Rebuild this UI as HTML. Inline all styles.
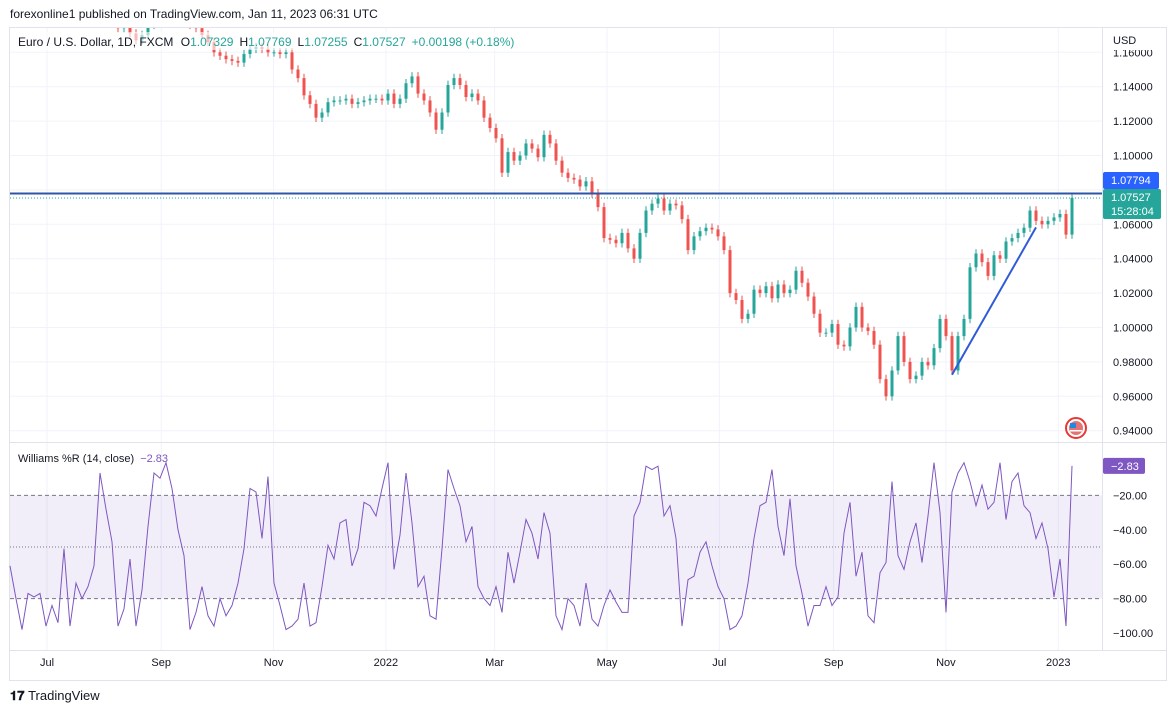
<!DOCTYPE html>
<html><head><meta charset="utf-8">
<style>
html,body{margin:0;padding:0;background:#fff;}
body{width:1176px;height:713px;overflow:hidden;font-family:"Liberation Sans",sans-serif;}
svg text{font-family:"Liberation Sans",sans-serif;}
</style></head>
<body>
<svg id="chart" width="1176" height="713" viewBox="0 0 1176 713" xmlns="http://www.w3.org/2000/svg">
<rect x="0" y="0" width="1176" height="713" fill="#ffffff"/>
<text x="10" y="18" font-size="12" fill="#131722">forexonline1 published on TradingView.com, Jan 11, 2023 06:31 UTC</text>
<rect x="9.5" y="27.5" width="1157" height="653" fill="none" stroke="#e0e3eb"/>
<g id="grid"></g>
<g id="wprband"></g>
<g id="candles"></g>
<g id="axes"></g>
<g id="overlay"></g>
<line x1="10" y1="442.5" x2="1166" y2="442.5" stroke="#e0e3eb"/>
<line x1="10" y1="650.5" x2="1166" y2="650.5" stroke="#e0e3eb"/>
<line x1="1102.5" y1="28" x2="1102.5" y2="650" stroke="#e0e3eb"/>
<rect x="14" y="32" width="510" height="18" fill="#fff" opacity="0.6"/>
<text x="18" y="46" font-size="12" fill="#131722">Euro / U.S. Dollar, 1D, FXCM <tspan dx="4">O</tspan><tspan fill="#26a69a">1.07329</tspan><tspan dx="6">H</tspan><tspan fill="#26a69a">1.07769</tspan><tspan dx="6">L</tspan><tspan fill="#26a69a">1.07255</tspan><tspan dx="6">C</tspan><tspan fill="#26a69a">1.07527</tspan><tspan dx="6" fill="#26a69a">+0.00198 (+0.18%)</tspan></text>
<rect x="1103" y="28" width="62" height="22" fill="#fff"/>
<text x="1113" y="44" font-size="11" fill="#131722">USD</text>
<text x="18" y="462" font-size="11" fill="#131722">Williams %R (14, close) <tspan fill="#7e57c2" dx="3">−2.83</tspan></text>
<g><circle cx="1076" cy="428" r="10" fill="#fff" stroke="#e53935" stroke-width="2"/><circle cx="1076" cy="428" r="7" fill="#e57373"/><rect x="1070" y="423" width="6" height="5" fill="#1e88e5"/><rect x="1070" y="430" width="12" height="1.5" fill="#fff"/></g>
<text x="10" y="700" font-size="13" font-weight="bold" fill="#131722">𝟏𝟕 <tspan font-weight="normal">TradingView</tspan></text>
</svg>
<script>
const closes=[1.212,1.205,1.198,1.192,1.188,1.186,1.186,1.182,1.180,1.183,1.187,1.188,1.185,1.183,1.187,1.185,1.183,1.178,1.174,1.176,1.171,1.167,1.170,1.176,1.180,1.184,1.188,1.186,1.182,1.180,1.176,1.174,1.170,1.166,1.160,1.158,1.156,1.155,1.154,1.159,1.162,1.163,1.162,1.160,1.160,1.159,1.160,1.150,1.145,1.135,1.130,1.122,1.125,1.131,1.132,1.132,1.133,1.130,1.131,1.132,1.133,1.133,1.132,1.136,1.130,1.133,1.142,1.146,1.136,1.132,1.125,1.115,1.125,1.141,1.145,1.141,1.134,1.136,1.132,1.122,1.116,1.110,1.090,1.102,1.097,1.100,1.107,1.104,1.099,1.112,1.107,1.097,1.090,1.087,1.086,1.082,1.085,1.078,1.070,1.052,1.051,1.049,1.055,1.046,1.040,1.055,1.068,1.072,1.075,1.068,1.072,1.071,1.063,1.045,1.053,1.056,1.058,1.057,1.053,1.045,1.020,1.016,1.005,1.008,1.022,1.020,1.024,1.017,1.025,1.020,1.022,1.033,1.026,1.018,1.008,0.997,0.997,1.002,0.990,0.989,1.000,1.012,1.000,0.998,0.990,0.970,0.960,0.975,0.995,0.980,0.970,0.972,0.980,0.978,0.988,1.005,0.995,0.975,0.995,1.005,1.035,1.043,1.038,1.030,1.042,1.040,1.050,1.052,1.055,1.058,1.068,1.062,1.060,1.062,1.064,1.066,1.054,1.0753];
const wpr=[-61,-80,-98,-77,-79,-77,-96,-84,-94,-51,-96,-71,-80,-73,-61,-7,-28,-47,-96,-86,-57,-96,-75,-38,-7,-10,-1,-16,-40,-55,-98,-88,-73,-90,-96,-80,-90,-84,-71,-51,-16,-18,-45,-9,-71,-84,-98,-96,-92,-71,-96,-94,-73,-49,-57,-36,-34,-61,-51,-24,-26,-32,-16,-1,-63,-43,-7,-36,-73,-67,-90,-92,-51,-5,-16,-26,-47,-38,-73,-80,-84,-73,-88,-53,-71,-53,-34,-42,-57,-30,-42,-90,-98,-80,-84,-96,-71,-92,-96,-84,-75,-82,-88,-88,-32,-24,-3,-5,-3,-32,-26,-45,-96,-69,-67,-53,-47,-61,-73,-80,-98,-96,-90,-71,-45,-26,-24,-5,-38,-55,-22,-61,-77,-96,-84,-84,-73,-84,-79,-42,-24,-67,-53,-90,-94,-65,-59,-12,-55,-63,-47,-36,-59,-32,-1,-30,-88,-18,-7,-1,-12,-26,-14,-28,-24,-1,-34,-12,-7,-26,-30,-45,-36,-51,-79,-57,-96,-2.83];
const priceTicks=[1.16,1.14,1.12,1.10,1.08,1.06,1.04,1.02,1.00,0.98,0.96,0.94];
const wprTicks=[-20,-40,-60,-80,-100];
const timeLabels=["Jul","Sep","Nov","2022","Mar","May","Jul","Sep","Nov","2023"];
const timeDays=[0,62,123,184,243,304,365,427,488,549]; // days since 2021-07-01
const resistance=1.07794, lastPrice=1.07527;
const trendStart=[0.9725], trendEnd=[1.0582];
const trendIdx=[157,171];

const NS="http://www.w3.org/2000/svg";
function mk(t,a,p){const e=document.createElementNS(NS,t);for(const k in a)e.setAttribute(k,a[k]);p.appendChild(e);return e;}
const py=v=>327.5-(v-1.0)*1720;
const wy=v=>461-v*1.72;
const X0=10,X1=1072;
const bx=i=>X0+i*(X1-X0)/(closes.length-1);
const dx=d=>47+d*1.842;
const grid=document.getElementById('grid'),axes=document.getElementById('axes');
const cg=document.getElementById('candles'),ov=document.getElementById('overlay');
priceTicks.forEach(t=>{const y=py(t);
 const l=mk('line',{x1:10,x2:1102,y1:y,y2:y,stroke:'#f0f3fa'},grid);
 
 
 if(Math.abs(y-py(resistance))<10)return;
 const tx=mk('text',{x:1113,y:y+4,'font-size':11,fill:'#131722'},axes);tx.textContent=t.toFixed(5);
 
 
});
timeDays.forEach((d,i)=>{const x=dx(d);
 const l=mk('line',{x1:x,x2:x,y1:28,y2:650,stroke:'#f0f3fa'},grid);
 
 
 const tx=mk('text',{x:x,y:666,'font-size':11,fill:'#131722','text-anchor':'middle'},axes);tx.textContent=timeLabels[i];
 
 
});
const band=mk('rect',{x:10,y:wy(-20),width:1092,height:wy(-80)-wy(-20),fill:'#7e57c2','fill-opacity':0.1},document.getElementById('wprband'));


[[-20,'4 3'],[-50,'1 2'],[-80,'4 3']].forEach(([v,d])=>{
 const l=mk('line',{x1:10,x2:1102,y1:wy(v),y2:wy(v),stroke:'#787b86','stroke-dasharray':d},grid);
 
 
});
wprTicks.forEach(t=>{const tx=mk('text',{x:1113,y:wy(t)+4,'font-size':11,fill:'#131722'},axes);tx.textContent=t.toFixed(2).replace('-','−');
 
 });
const defs=mk('defs',{},document.getElementById('chart'));
const cp=mk('clipPath',{id:'pc'},defs);mk('rect',{x:10,y:28,width:1092,height:414},cp);
cg.setAttribute('clip-path','url(#pc)');
closes.forEach((c,i)=>{if(i===0)return;const o=closes[i-1];const up=c>=o;const col=up?'#26a69a':'#ef5350';
 const x=bx(i);const hi=Math.max(o,c)+0.0025,lo=Math.min(o,c)-0.0025;
 const g=mk('g',{},cg);
 
 
 mk('line',{x1:x,x2:x,y1:py(hi),y2:py(lo),stroke:col,'stroke-width':1},g);
 const t=py(Math.max(o,c)),b=py(Math.min(o,c));
 mk('rect',{x:x-1.5,y:t,width:3,height:Math.max(1,b-t),fill:col},g);
});
let d='';wpr.forEach((v,i)=>{d+=(i?'L':'M')+bx(i).toFixed(1)+' '+wy(v).toFixed(1);});
const wl=mk('path',{d:d,fill:'none',stroke:'#7e57c2','stroke-width':1},ov);


const rl=mk('line',{x1:10,x2:1102,y1:py(resistance),y2:py(resistance),stroke:'#2c55a8','stroke-width':2},ov);


const ll=mk('line',{x1:10,x2:1102,y1:py(lastPrice),y2:py(lastPrice),stroke:'#26a69a','stroke-dasharray':'1 2'},ov);


const tl=mk('line',{x1:bx(trendIdx[0]),y1:py(trendStart[0]),x2:bx(trendIdx[1]),y2:py(trendEnd[0]),stroke:'#2f5bd6','stroke-width':2},ov);


const r1=mk('rect',{x:1103,y:172,width:56,height:17,rx:2,fill:'#2962ff'},ov);


const t1=mk('text',{x:1111,y:184,'font-size':11,fill:'#fff'},ov);t1.textContent=resistance.toFixed(5);
const r2=mk('rect',{x:1103,y:189,width:58,height:30,rx:2,fill:'#26a69a'},ov);


const t2=mk('text',{x:1111,y:201,'font-size':11,fill:'#fff'},ov);t2.textContent=lastPrice.toFixed(5);
const t3=mk('text',{x:1111,y:215,'font-size':11,fill:'#fff'},ov);t3.textContent='15:28:04';
const lv=wpr[wpr.length-1];
const r3=mk('rect',{x:1103,y:wy(lv)-8,width:42,height:16,rx:2,fill:'#7e57c2'},ov);


const t4=mk('text',{x:1111,y:wy(lv)+4,'font-size':11,fill:'#fff'},ov);t4.textContent=lv.toFixed(2).replace('-','−');
</script>
</body></html>
